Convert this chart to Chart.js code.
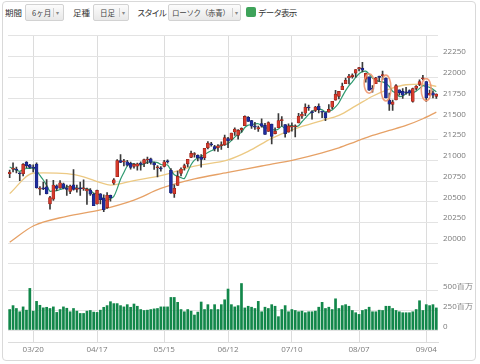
<!DOCTYPE html>
<html><head><meta charset="utf-8">
<script src="https://cdn.jsdelivr.net/npm/chart.js@4.4.0/dist/chart.umd.min.js"></script>
<style>
html,body{margin:0;padding:0;background:#fff;width:480px;height:364px;overflow:hidden;font-family:"Noto Sans CJK JP","Noto Sans",sans-serif;}
#frame{position:absolute;left:2px;top:1px;width:474px;height:360px;border:1px solid #d9d9d9;border-radius:4px;box-sizing:border-box;}
.lbl{position:absolute;top:6px;font-size:8.5px;color:#333;line-height:12px;white-space:nowrap;}
.btn{position:absolute;top:4px;height:17px;box-sizing:border-box;border:1px solid #d2d2d2;border-radius:2px;background:linear-gradient(#fcfcfc,#e8e8e8);font-size:7.5px;color:#444;line-height:15px;white-space:nowrap;}
.btn .t{position:absolute;top:0}
.btn .d{position:absolute;top:3px;width:1px;height:9px;background:#cfcfcf}
.btn .a{position:absolute;top:0;font-size:6px;color:#888}
#cb{position:absolute;left:246px;top:7px;width:10px;height:10px;background:#3ea35a;border-radius:2px}
#wrap{position:absolute;left:0;top:26px;width:478px;height:336px}
</style></head>
<body>
<div id="frame"></div>
<span class="lbl" style="left:5px">期間</span>
<div class="btn" style="left:25px;width:39px"><span class="t" style="left:6px">6ヶ月</span><span class="d" style="left:27px"></span><span class="a" style="left:30px">▾</span></div>
<span class="lbl" style="left:73px">足種</span>
<div class="btn" style="left:93px;width:36px"><span class="t" style="left:6px">日足</span><span class="d" style="left:25px"></span><span class="a" style="left:28px">▾</span></div>
<span class="lbl" style="left:137px;letter-spacing:-1.3px">スタイル</span>
<div class="btn" style="left:168px;width:73px"><span class="t" style="left:3px;letter-spacing:-0.3px">ローソク（赤青）</span><span class="d" style="left:63px"></span><span class="a" style="left:66px">▾</span></div>
<div id="cb"><svg width="10" height="10" viewBox="0 0 10 10"><polyline points="2.2,5.2 4.2,7.2 8,2.8" fill="none" stroke="#fff" stroke-width="1.6"/></svg></div>
<span class="lbl" style="left:258px;letter-spacing:-0.8px">データ表示</span>
<div id="wrap"><canvas id="c" width="478" height="336"></canvas></div>
<script>
const dates = ['03/09','03/10','03/13','03/14','03/15','03/16','03/17','03/20','03/21','03/22','03/23','03/24','03/27','03/28','03/29','03/30','03/31',
'04/03','04/04','04/05','04/06','04/07','04/10','04/11','04/12','04/13','04/17','04/18','04/19','04/20','04/21','04/24','04/25','04/26','04/27','04/28',
'05/01','05/02','05/03','05/04','05/05','05/08','05/09','05/10','05/11','05/12','05/15','05/16','05/17','05/18','05/19','05/22','05/23','05/24','05/25','05/26','05/30','05/31',
'06/01','06/02','06/05','06/06','06/07','06/08','06/09','06/12','06/13','06/14','06/15','06/16','06/19','06/20','06/21','06/22','06/23','06/26','06/27','06/28','06/29','06/30',
'07/03','07/05','07/06','07/07','07/10','07/11','07/12','07/13','07/14','07/17','07/18','07/19','07/20','07/21','07/24','07/25','07/26','07/27','07/28','07/31',
'08/01','08/02','08/03','08/04','08/07','08/08','08/09','08/10','08/11','08/14','08/15','08/16','08/17','08/18','08/21','08/22','08/23','08/24','08/25','08/28','08/29','08/30','08/31',
'09/01','09/05','09/06','09/07','09/08'];

const open = [20837,20893,20893,20838,20838,20977,20945,20911,20955,20653,
20662,20681,20475,20532,20693,20666,20716,20665,20626,20704,
20650,20668,20656,20630,20642,20590,20473,20597,20545,20430,
20576,20723,20801,20996,20980,20981,20962,20926,20929,20966,
20961,21003,21018,20968,20910,20910,20925,20988,20880,20597,
20697,20840,20910,20957,21035,21069,21058,21037,21030,21152,
21199,21165,21152,21176,21186,21262,21250,21341,21300,21366,
21417,21517,21478,21414,21378,21442,21420,21348,21435,21321,
21393,21478,21431,21340,21399,21404,21450,21530,21567,21640,
21585,21600,21652,21587,21575,21580,21640,21725,21770,21850,
21923,21992,22008,22050,22100,22110,21978,22005,21860,21922,
22003,22020,21990,21725,21674,21727,21850,21830,21822,21840,
21709,21867,21914,21982,21949,21783,21814,21770];

const high = [20882,20970,20919,20852,20960,20984,20950,20944,20970,20683,
20737,20767,20565,20757,20704,20756,20724,20702,20702,20887,
20702,20737,20763,20665,20658,20605,20642,20600,20583,20611,
20580,20779,21007,21070,21010,21000,20979,20964,20966,20982,
21013,21038,21027,20977,20935,20925,21000,21005,20900,20703,
20871,20908,20955,21012,21112,21093,21065,21069,21144,21225,
21216,21180,21190,21222,21305,21275,21329,21392,21370,21392,
21535,21527,21480,21456,21413,21500,21446,21464,21435,21392,
21562,21525,21431,21438,21451,21428,21566,21580,21681,21665,
21600,21651,21681,21587,21575,21670,21711,21843,21830,21929,
21990,22036,22042,22092,22119,22179,22052,22005,21900,22000,
22015,22076,21992,21809,21725,21911,21850,21864,21880,21850,
21870,21900,21968,22024,21949,21847,21838,21800];

const low = [20791,20860,20848,20753,20812,20910,20905,20860,20663,20581,
20645,20595,20412,20515,20634,20662,20655,20577,20596,20640,
20614,20577,20638,20468,20577,20453,20470,20475,20379,20419,
20508,20710,20801,20970,20931,20933,20892,20905,20880,20881,
20924,20960,20954,20890,20800,20870,20921,20964,20600,20553,
20697,20810,20882,20920,21030,21036,20992,20918,21008,21138,
21170,21112,21106,21130,21180,21153,21241,21300,21253,21338,
21417,21467,21385,21373,21349,21398,21311,21348,21198,21319,
21393,21411,21279,21340,21350,21280,21450,21505,21536,21600,
21494,21585,21570,21512,21476,21580,21620,21725,21738,21850,
21923,21920,21990,22000,22078,22064,21940,21843,21820,21922,
21950,21971,21750,21600,21600,21727,21783,21745,21798,21780,
21700,21845,21900,21967,21709,21783,21751,21745];

const close = [20858,20903,20881,20837,20950,20934,20915,20906,20669,20662,
20656,20597,20551,20701,20660,20729,20663,20650,20690,20648,
20663,20656,20658,20651,20592,20453,20637,20524,20404,20578,
20548,20764,20996,20975,20981,20941,20913,20950,20958,20951,
21007,21013,20975,20943,20919,20897,20982,20980,20607,20663,
20805,20895,20937,21012,21083,21080,21029,21009,21144,21206,
21184,21136,21174,21182,21272,21236,21328,21375,21360,21384,
21529,21468,21411,21398,21395,21410,21311,21455,21288,21350,
21479,21479,21321,21414,21409,21409,21532,21554,21638,21630,
21575,21641,21611,21580,21513,21613,21711,21797,21830,21891,
21964,22016,22026,22093,22118,22085,22049,21844,21858,21994,
21999,22025,21751,21675,21703,21899,21813,21784,21814,21808,
21865,21892,21948,21988,21753,21807,21784,21798];

const volumeM = [264,313,277,236,297,256,528,244,366,317,
285,292,277,297,228,264,297,280,236,277,
244,215,215,244,252,232,228,256,292,313,
362,338,338,313,297,325,292,333,305,264,
252,256,264,272,277,297,297,297,415,415,
354,264,236,264,244,195,232,358,264,325,
264,325,264,325,386,520,325,297,313,589,
284,305,293,277,366,236,293,277,325,305,
175,264,313,236,264,252,236,244,224,236,
236,244,293,354,277,293,264,398,277,313,
325,305,252,224,203,252,264,293,236,236,
256,252,305,305,277,252,236,224,224,224,
236,264,374,252,325,313,325,284];

const ma5 = [20919,20899,20884,20867,20886,20901,20903,20908,20875,20817,
20762,20698,20627,20633,20633,20648,20661,20681,20678,20676,
20663,20661,20663,20655,20644,20602,20598,20571,20522,20519,
20538,20564,20658,20772,20853,20931,20961,20952,20949,20943,
20956,20976,20981,20978,20971,20949,20943,20944,20877,20826,
20807,20790,20781,20862,20946,21001,21028,21043,21069,21094,
21114,21136,21169,21176,21190,21200,21238,21279,21314,21337,
21395,21423,21430,21438,21440,21416,21385,21394,21372,21363,
21377,21410,21383,21409,21420,21406,21417,21464,21508,21553,
21586,21608,21619,21607,21584,21592,21606,21643,21693,21768,
21839,21900,21945,21998,22043,22068,22074,22038,21991,21966,
21949,21944,21925,21889,21831,21811,21768,21775,21803,21824,
21817,21833,21865,21900,21889,21878,21856,21826];

const ma25Dates = ['03/09','03/20','03/23','04/03','04/10','04/18','04/21','05/02','05/12','05/26','06/12','06/20','06/29','07/11','07/21','07/28','08/04','08/11','08/18','08/25','09/01','09/08'];
const ma25 = [20598,20845,20848,20840,20800,20730,20700,20755,20815,20930,21005,21107,21264,21381,21479,21540,21655,21772,21858,21910,21917,21890];

const ma75Dates = ['03/09','03/20','04/03','04/18','05/02','05/12','05/26','06/12','06/26','07/11','07/21','07/28','08/04','08/11','08/18','08/25','09/01','09/08'];
const ma75 = [20012,20208,20325,20403,20520,20660,20775,20853,20931,21009,21090,21150,21225,21300,21360,21420,21500,21580];

const tickLabels = ['03/20','04/17','05/15','06/12','07/10','08/07','09/04'];
const volTicks = [0,250,500];
const highlightDates = ['08/10','08/17','09/05'];

const UP_FILL = '#d63a2c', UP_EDGE = '#8e2016';
const DN_FILL = '#1f2c9e', DN_EDGE = '#151f70';

const tickMap = new Map();
tickLabels.forEach(t => { const i = dates.findIndex(d => d >= t); tickMap.set(i, t); });
const isUp = close.map((c, i) => c >= open[i]);

const hlPlugin = {
  id: 'hl',
  afterDatasetsDraw(chart) {
    const { ctx, scales: { x, y } } = chart;
    ctx.save();
    ctx.strokeStyle = 'rgba(240,150,110,0.9)';
    ctx.lineWidth = 1.6;
    highlightDates.forEach(d => {
      const i = dates.indexOf(d);
      const cx = x.getPixelForValue(i);
      const y1 = y.getPixelForValue(open[i]), y2 = y.getPixelForValue(close[i]);
      ctx.beginPath();
      ctx.ellipse(cx, (y1 + y2) / 2, 5, Math.abs(y1 - y2) / 2 + 3, 0, 0, Math.PI * 2);
      ctx.stroke();
    });
    ctx.restore();
  }
};

const tickFont = { family: '"Open Sans","Liberation Sans",sans-serif', size: 8 };

new Chart(document.getElementById('c'), {
  type: 'bar',
  data: {
    labels: dates,
    datasets: [
      { type: 'bar', data: dates.map((d, i) => [open[i], close[i]]), yAxisID: 'y',
        backgroundColor: isUp.map(u => u ? UP_FILL : DN_FILL), borderColor: isUp.map(u => u ? UP_EDGE : DN_EDGE),
        borderWidth: 0.6, borderSkipped: false, barThickness: 3, minBarLength: 1, grouped: false, order: 0 },
      { type: 'bar', data: dates.map((d, i) => [low[i], high[i]]), yAxisID: 'y',
        backgroundColor: '#3a3a3a', barThickness: 1, grouped: false, order: 1 },
      { type: 'line', data: ma5, yAxisID: 'y', borderColor: '#2f9a70', borderWidth: 1.2,
        pointRadius: 0, tension: 0.3, order: 2 },
      { type: 'line', data: ma25Dates.map((d, i) => ({ x: d, y: ma25[i] })), yAxisID: 'y', borderColor: '#ecc983', borderWidth: 1.3,
        pointRadius: 0, cubicInterpolationMode: 'monotone', order: 3 },
      { type: 'line', data: ma75Dates.map((d, i) => ({ x: d, y: ma75[i] })), yAxisID: 'y', borderColor: '#e6a166', borderWidth: 1.3,
        pointRadius: 0, cubicInterpolationMode: 'monotone', order: 4 },
      { type: 'bar', data: volumeM, yAxisID: 'yv', backgroundColor: '#12874a',
        barPercentage: 0.8, categoryPercentage: 1, grouped: false, order: 5 }
    ]
  },
  options: {
    responsive: false, animation: false, devicePixelRatio: 1,
    layout: { padding: { left: 8, top: 2, right: 0, bottom: 0 } },
    plugins: { legend: { display: false }, tooltip: { enabled: false } },
    scales: {
      x: {
        type: 'category', offset: true,
        grid: { offset: false, drawTicks: false, color: c => tickMap.has(c.index) ? '#dcdcdc' : 'rgba(0,0,0,0)' },
        border: { display: true, color: '#dcdcdc' },
        ticks: { autoSkip: false, maxRotation: 0, padding: 3, color: '#7a7a7a', font: tickFont,
          callback: (v, i) => tickMap.has(i) ? tickMap.get(i) : '' },
        afterFit: s => { s.height = 20; }
      },
      y: {
        position: 'right', stack: 'main', stackWeight: 234, min: 19750, max: 22500,
        grid: { drawTicks: false, color: '#e3e3e3' }, border: { display: false },
        ticks: { stepSize: 250, autoSkip: false, padding: 5, labelOffset: -4.5, color: '#7a7a7a', font: tickFont,
          callback: v => (v >= 20000 && v <= 22250) ? String(v) : '' },
        afterFit: s => { s.width = 40; }
      },
      yv: {
        position: 'right', stack: 'main', stackWeight: 80, min: -146, max: 829,
        afterBuildTicks: s => { s.ticks = volTicks.map(v => ({ value: v })); },
        grid: { drawTicks: false, color: '#e3e3e3' }, border: { display: false },
        ticks: { autoSkip: false, padding: 5, labelOffset: -4, color: '#7a7a7a', font: tickFont,
          callback: v => v === 0 ? '0' : v + '百万' },
        afterFit: s => { s.width = 40; }
      }
    }
  },
  plugins: [hlPlugin]
});
</script>
</body></html>
